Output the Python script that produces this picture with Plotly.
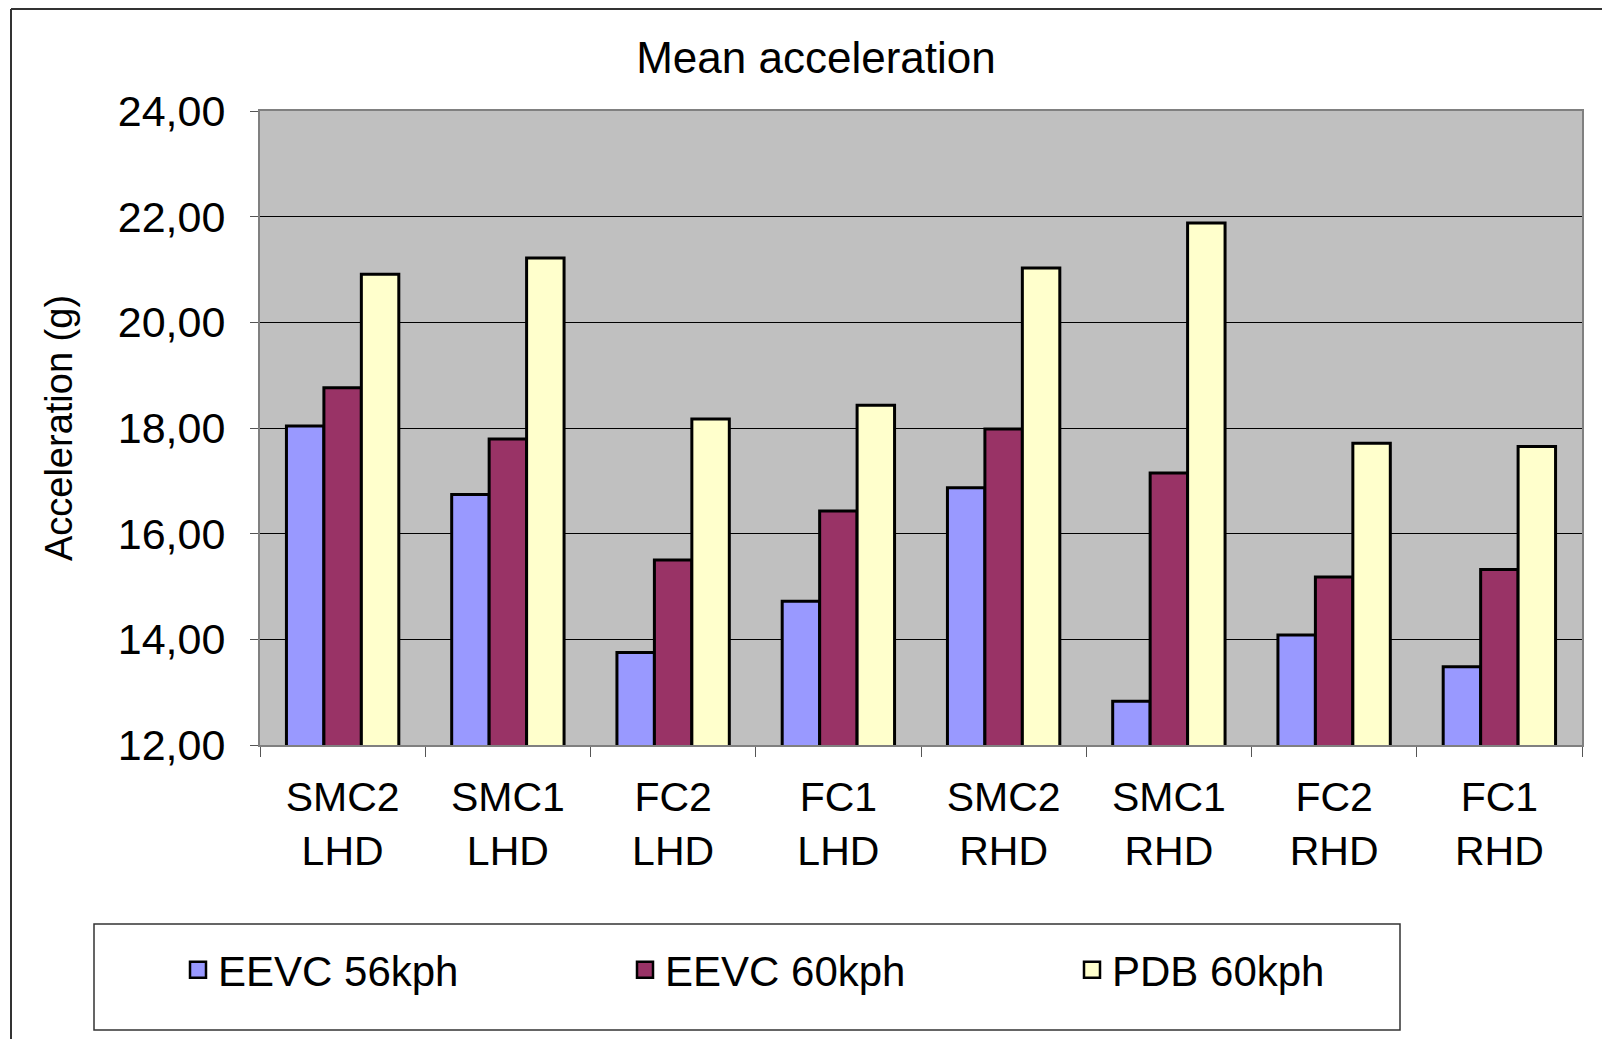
import plotly.graph_objects as go

# ---- data ----
categories = ["SMC2<br>LHD", "SMC1<br>LHD", "FC2<br>LHD", "FC1<br>LHD",
              "SMC2<br>RHD", "SMC1<br>RHD", "FC2<br>RHD", "FC1<br>RHD"]
eevc_56kph = [18.04, 16.74, 13.75, 14.72, 16.87, 12.83, 14.08, 13.48]
eevc_60kph = [18.76, 17.79, 15.50, 16.43, 17.98, 17.15, 15.18, 15.32]
pdb_60kph = [20.91, 21.22, 18.17, 18.43, 21.03, 21.88, 17.71, 17.65]
series_names = ["EEVC 56kph", "EEVC 60kph", "PDB 60kph"]
y_ticks = [12, 14, 16, 18, 20, 22, 24]
title_text = "Mean acceleration"
y_title = "Acceleration (g)"

# ---- style ----
colors = ["#9999FF", "#993366", "#FFFFCC"]
FONT = "Liberation Sans, Arial, sans-serif"
W, H = 1610, 1039
OFF = 8  # page body margin
# plot area in page pixels: x 260..1582, y 111..745
L = 260 - OFF
T = 111 - OFF
R = W - (1582 - OFF)
B = H - (745 - OFF)
pw, ph = W - L - R, H - T - B


def px_x(x):  # page px -> paper
    return (x - OFF - L) / pw


def px_y(y):
    return (H - B - (y - OFF)) / ph


fig = go.Figure()
for name, vals, col in zip(series_names, [eevc_56kph, eevc_60kph, pdb_60kph], colors):
    fig.add_trace(go.Bar(
        x=categories, y=vals, name=name, showlegend=False,
        marker=dict(color=col, line=dict(color="black", width=3)),
    ))
# legend entries (larger square keys)
for name, col in zip(series_names, colors):
    fig.add_trace(go.Scatter(
        x=[None], y=[None], name=name, mode="markers",
        marker=dict(symbol="square", size=16, color=col,
                    line=dict(color="black", width=2.5)),
    ))

shapes = [
    # outer chart border (top & left visible)
    dict(type="line", xref="paper", yref="paper", x0=px_x(11), x1=px_x(1640),
         y0=px_y(9), y1=px_y(9), line=dict(color="#333333", width=2)),
    dict(type="line", xref="paper", yref="paper", x0=px_x(11), x1=px_x(11),
         y0=px_y(9), y1=px_y(1060), line=dict(color="#333333", width=2)),
    # legend box
    dict(type="rect", xref="paper", yref="paper", x0=px_x(94), x1=px_x(1400),
         y0=px_y(1030), y1=px_y(924), line=dict(color="#333333", width=1.5),
         fillcolor="rgba(0,0,0,0)"),
]

fig.update_layout(
    width=W, height=H,
    margin=dict(l=L, r=R, t=T, b=B, autoexpand=False),
    paper_bgcolor="white",
    plot_bgcolor="#C0C0C0",
    separators=",.",
    font=dict(family=FONT, size=42, color="black"),
    title=dict(text=title_text, x=(816 - OFF) / W, xref="container", xanchor="center",
               y=1 - (58 - OFF) / H, yref="container", yanchor="middle",
               font=dict(family=FONT, size=44, color="black")),
    barmode="group",
    bargap=0.32,
    bargroupgap=0,
    showlegend=True,
    legend=dict(orientation="h", x=px_x(178), xanchor="left", y=px_y(970),
                yanchor="middle", bgcolor="rgba(0,0,0,0)", borderwidth=0,
                font=dict(family=FONT, size=42, color="black"),
                entrywidth=402, entrywidthmode="pixels",
                traceorder="normal"),
    shapes=shapes,
    xaxis=dict(
        showgrid=False, showline=True, linecolor="#808080", linewidth=2, mirror=True,
        ticks="outside", tickson="boundaries", ticklen=10, tickcolor="#555555",
        tickwidth=1, ticklabelstandoff=15,
        tickfont=dict(family=FONT, size=41, color="black"),
        automargin=False,
    ),
    yaxis=dict(
        range=[12, 24], tickvals=y_ticks, tickformat=".2f",
        showgrid=True, gridcolor="black", gridwidth=1,
        showline=True, linecolor="#808080", linewidth=2, mirror=True,
        ticks="outside", ticklen=8, tickcolor="#555555", tickwidth=1,
        ticklabelstandoff=16,
        tickfont=dict(family=FONT, size=43, color="black"),
        title=dict(text=y_title, standoff=33,
                   font=dict(family=FONT, size=38, color="black")),
        zeroline=False, automargin=False,
    ),
)

fig.write_html("out.html")
